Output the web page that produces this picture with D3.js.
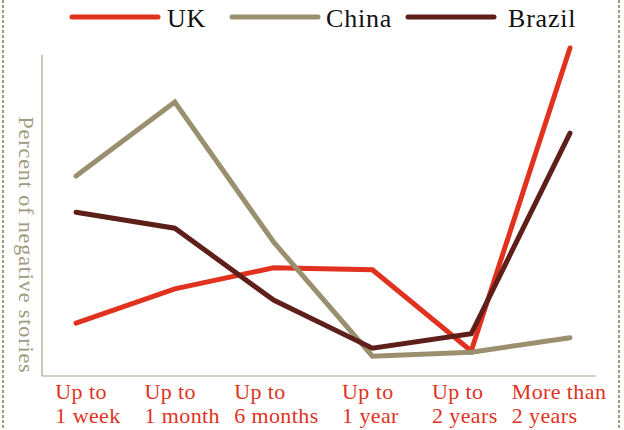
<!DOCTYPE html>
<html><head><meta charset="utf-8">
<script src="https://cdn.jsdelivr.net/npm/d3@7"></script>
<style>body{margin:0;background:#fff}svg{display:block}</style>
</head><body>
<script>
const categories = [["Up to","1 week"],["Up to","1 month"],["Up to","6 months"],["Up to","1 year"],["Up to","2 years"],["More than","2 years"]];
const seriesNames = ["UK","China","Brazil"];
const ukValues = [8.0, 13.2, 16.4, 16.1, 3.8, 49.7];
const chinaValues = [30.3, 41.5, 20.3, 3.0, 3.6, 5.8];
const brazilValues = [24.8, 22.4, 11.5, 4.2, 6.4, 36.8];
const colors = ["#e0321e", "#9a8f6e", "#5e1f1a"];

const W = 624, H = 430;
const svg = d3.select("body").append("svg").attr("width", W).attr("height", H);
const font = "'Liberation Serif', 'DejaVu Serif', serif";

// dashed side borders
[3, 619].forEach(x => svg.append("line").attr("x1", x).attr("x2", x).attr("y1", 0).attr("y2", H)
  .attr("stroke", "#a09a80").attr("stroke-width", 2).attr("stroke-dasharray", "3,2"));

const x = d3.scalePoint().domain(d3.range(categories.length)).range([76, 570]);
const xLab = d3.scalePoint().domain(d3.range(categories.length)).range([88, 559]);
const y = d3.scaleLinear().domain([0, 50]).range([376, 46]);

// axes lines
svg.append("line").attr("x1", 42).attr("x2", 42).attr("y1", 55).attr("y2", 376).attr("stroke", "#a89f84").attr("stroke-width", 1.2);
svg.append("line").attr("x1", 42).attr("x2", 596).attr("y1", 376).attr("y2", 376).attr("stroke", "#a89f84").attr("stroke-width", 1.2);

// y label
svg.append("text").attr("transform", "translate(19,245) rotate(90)")
  .attr("text-anchor", "middle").attr("font-family", font).attr("font-size", 22)
  .attr("letter-spacing", 0.9)
  .attr("fill", "#a09a80").text("Percent of negative stories");

// x labels
categories.forEach((lines, i) => {
  const g = svg.append("text").attr("font-family", font).attr("font-size", 22)
    .attr("letter-spacing", 0.4).attr("fill", "#e0321e");
  lines.forEach((t, j) => g.append("tspan").attr("x", 0).attr("y", 399 + j * 24).text(t));
  const w = g.node().getBBox().width;
  g.attr("transform", `translate(${xLab(i) - w / 2},0)`);
});

// lines
const line = d3.line().x((d, i) => x(i)).y(d => y(d));
[ukValues, chinaValues, brazilValues].forEach((vals, k) => {
  svg.append("path").datum(vals).attr("d", line).attr("fill", "none")
    .attr("stroke", colors[k]).attr("stroke-width", 5).attr("stroke-linecap", "round").attr("stroke-linejoin", "miter");
});

// legend
const legX = [72, 232, 408];
const legGap = [9, 8, 14];
seriesNames.forEach((n, k) => {
  svg.append("line").attr("x1", legX[k]).attr("x2", legX[k] + 86).attr("y1", 17).attr("y2", 17)
    .attr("stroke", colors[k]).attr("stroke-width", 5).attr("stroke-linecap", "round");
  svg.append("text").attr("x", legX[k] + 86 + legGap[k]).attr("y", 27).attr("font-family", font).attr("font-size", 26)
    .attr("letter-spacing", 0.8).attr("fill", "#111").text(n);
});
</script>
</body></html>
